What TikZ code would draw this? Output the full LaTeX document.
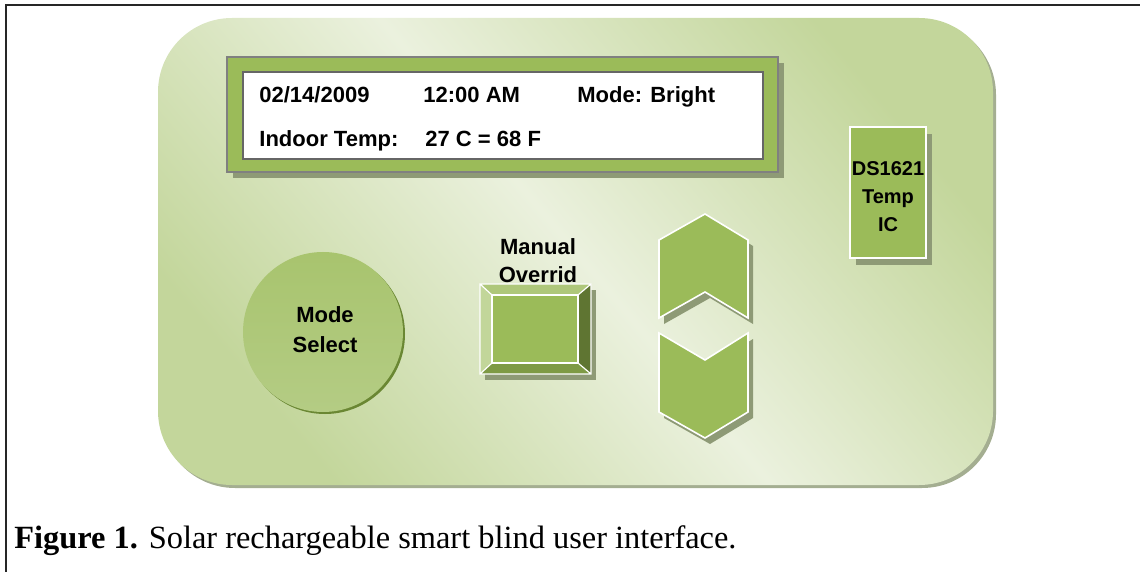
\documentclass[tikz,border=0pt]{standalone}
\usepackage{fontspec}
\setmainfont{Liberation Serif}
\newfontfamily\uifont{Liberation Sans}
\definecolor{accgreen}{HTML}{9BBB59}
\definecolor{paneldark}{HTML}{C3D69B}
\definecolor{panellight}{HTML}{EBF1DE}
\definecolor{shadowgray}{HTML}{8E9A76}
\definecolor{bevellight}{HTML}{C2D69A}
\definecolor{beveltop}{HTML}{AEC77A}
\definecolor{bevelmid}{HTML}{7E9A45}
\definecolor{beveldark}{HTML}{5F7532}
\definecolor{rimgreen}{HTML}{6A8733}
\definecolor{knobtop}{HTML}{A8C46E}
\definecolor{knobbottom}{HTML}{B4CC84}
\tikzset{
  uitext/.style={font=\uifont\bfseries\fontsize{11}{14}\selectfont, inner sep=0pt},
  keyface/.style={fill=accgreen, draw=white, line width=0.8pt},
  dropshade/.style={fill=shadowgray},
}
\begin{document}
\begin{tikzpicture}[x=0.5pt,y=-0.5pt]
    \useasboundingbox (0,0) rectangle (1140,572);
    % outer frame
    \draw[line width=1pt,black!85] (6,572) -- (6,5) -- (1140,5);
    % panel
    \fill[shadowgray!80,rounded corners=37pt] (161,21) rectangle (996,488);
    \shade[rounded corners=37pt,top color=paneldark,bottom color=paneldark,middle color=panellight,shading angle=-50] (158,18) rectangle (993,485);
    % display
    \fill[dropshade] (233,63) rectangle (784,178);
    \draw[fill=accgreen,draw=gray,line width=1.2pt] (227,57) rectangle (778,172);
    \draw[fill=white,draw=black!60,line width=0.6pt] (243,72) rectangle (763,159);
    \node[uitext,anchor=base west] (lcdDate) at (259,103) {02/14/2009};
    \node[uitext,anchor=base west] (lcdTime) at (423,103) {12:00 AM};
    \node[uitext,anchor=base west] (lcdMode) at (577,103) {Mode: Bright};
    \node[uitext,anchor=base west] (lcdTempLabel) at (259,147) {Indoor Temp:};
    \node[uitext,anchor=base west] (lcdTempValue) at (425,147) {27 C = 68 F};
    % mode select knob
    \fill[rimgreen] (325,334) circle[radius=40pt];
    \shade[top color=knobtop,middle color=accgreen,bottom color=knobbottom] (323,332) circle[radius=40pt];
    \node[uitext,align=center,font=\uifont\bfseries\fontsize{11}{15}\selectfont] (modeSelect) at (325,330) {Mode\\Select};
    % manual override key
    \node[uitext,align=center] (manualLabel) at (538,261) {Manual\\Overrid};
    \fill[dropshade] (485,290) rectangle (596,380);
    \fill[beveltop] (480,284) -- (591,284) -- (578,295) -- (492,295) -- cycle;
    \fill[bevellight] (480,284) -- (492,295) -- (492,363) -- (480,374) -- cycle;
    \fill[beveldark] (591,284) -- (591,374) -- (578,363) -- (578,295) -- cycle;
    \fill[bevelmid] (480,374) -- (591,374) -- (578,363) -- (492,363) -- cycle;
    \draw[keyface,line width=0.6pt] (492,295) rectangle (578,363);
    \draw[white,line width=0.6pt] (480,284) rectangle (591,374)
        (480,284) -- (492,295) (591,284) -- (578,295) (591,374) -- (578,363) (480,374) -- (492,363);
    % up and down keys
    \fill[dropshade,shift={(5,6)}] (705,214) -- (748,240) -- (748,318) -- (705,292) -- (659,318) -- (659,240) -- cycle;
    \draw[keyface] (705,214) -- (748,240) -- (748,318) -- (705,292) -- (659,318) -- (659,240) -- cycle;
    \fill[dropshade,shift={(5,6)}] (659,333) -- (705,360) -- (748,333) -- (748,412) -- (705,438) -- (659,412) -- cycle;
    \draw[keyface] (659,333) -- (705,360) -- (748,333) -- (748,412) -- (705,438) -- (659,412) -- cycle;
    % temperature sensor
    \fill[dropshade] (856,134) rectangle (932,265);
    \draw[keyface,line width=0.6pt] (850,127) rectangle (926,258);
    \node[uitext,align=center,font=\uifont\bfseries\fontsize{10}{14}\selectfont] (tempIC) at (888,197) {DS1621\\Temp\\IC};
    % caption
    \node[anchor=base west,inner sep=0pt,font=\fontsize{16.2}{19}\selectfont] (caption) at (14,548) {\textbf{Figure 1.} Solar rechargeable smart blind user interface.};
\end{tikzpicture}
\end{document}
